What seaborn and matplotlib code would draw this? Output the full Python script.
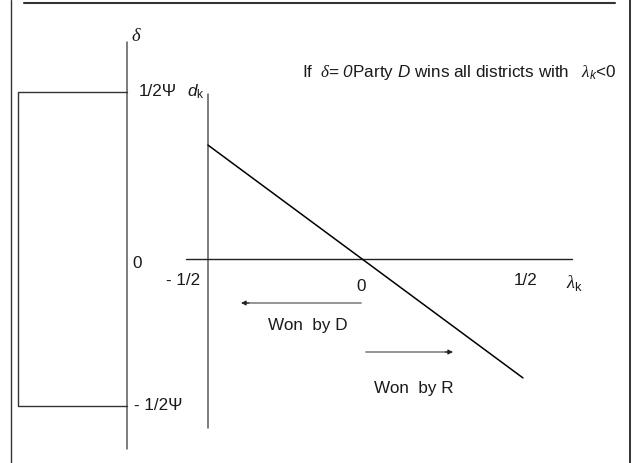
import matplotlib
matplotlib.use("Agg")
import matplotlib.pyplot as plt
import seaborn as sns
import pandas as pd
from matplotlib.lines import Line2D

# ---- data (in model units: lambda_k horizontally, delta / d_k vertically) ----
lam_ticks = [-0.5, 0.0, 0.5]
lam_tick_labels = ["- 1/2", "0", "1/2"]
psi_levels = [0.5, -0.44]
psi_labels = ["1/2\u03a8", "- 1/2\u03a8"]
line_lam = [-0.5, 0.516]
line_d = [0.341, -0.356]

sns.set_theme(style="white")
plt.rcParams["font.family"] = ["Liberation Sans", "DejaVu Sans"]
plt.rcParams["mathtext.fontset"] = "custom"
plt.rcParams["mathtext.rm"] = "Liberation Sans"
plt.rcParams["mathtext.it"] = "Liberation Sans:italic"
plt.rcParams["mathtext.sf"] = "Liberation Sans:italic"
plt.rcParams["mathtext.cal"] = "Liberation Serif:italic"

W, H, DPI = 632, 463, 100
fig = plt.figure(figsize=(W / DPI, H / DPI), dpi=DPI)
ax = fig.add_axes([0, 0, 1, 1])

# pixel -> model unit helpers (layout only)
X0, Y0, SX, SY = 363, 259, 310, 334
def X(px):
    return (px - X0) / SX
def Y(py):
    return (Y0 - py) / SY

ax.set_xlim(X(0), X(W))
ax.set_ylim(Y(H), Y(0))
ax.axis("off")

FS = 12.3
AX_C = "#5a5a5a"

# delta axis
ax.plot([X(127), X(127)], [Y(42), Y(449)], color=AX_C, lw=1.1)
# d_k axis (at lambda = -1/2)
ax.plot([lam_ticks[0], lam_ticks[0]], [Y(94), Y(428)], color=AX_C, lw=1.1)
# lambda axis (at d = 0)
ax.plot([X(186), X(572)], [0, 0], color="#222222", lw=1.0)

# bracket at +/- 1/2 Psi
ax.plot([X(127), X(18), X(18), X(127)],
        [psi_levels[0], psi_levels[0], psi_levels[1], psi_levels[1]],
        color="#333333", lw=1.0)

# d_k line
df = pd.DataFrame({"lam": line_lam, "d": line_d})
sns.lineplot(data=df, x="lam", y="d", ax=ax, color="black", lw=1.1)

# arrows (grey shaft, dark head)
shaft_c = "#8c8c8c"
for (xa, xb, yy) in [(361, 247, 303), (366, 447, 352)]:
    ax.plot([X(xa), X(xb)], [Y(yy), Y(yy)], color=shaft_c, lw=1.3)
head_kw = dict(arrowstyle="-|>", color="#222222", lw=0.8, mutation_scale=7,
               shrinkA=0, shrinkB=0)
ax.annotate("", xy=(X(241), Y(303)), xytext=(X(249), Y(303)), arrowprops=head_kw)
ax.annotate("", xy=(X(453), Y(352)), xytext=(X(445), Y(352)), arrowprops=head_kw)

# labels
tc = "#1a1a1a"
ax.text(X(136), Y(41), r"$\mathcal{\delta}$", fontsize=FS + 1, ha="center", va="baseline", color=tc)
ax.text(X(139), Y(96), psi_labels[0], fontsize=FS, ha="left", va="baseline", color=tc)
ax.text(X(187), Y(96), r"$d_{\mathrm{k}}$", fontsize=FS, ha="left", va="baseline", color=tc)
ax.text(X(134), Y(410), psi_labels[1], fontsize=FS, ha="left", va="baseline", color=tc)
ax.text(X(137), Y(268), "0", fontsize=FS, ha="center", va="baseline", color=tc)

ax.text(X(200), Y(285), lam_tick_labels[0], fontsize=FS, ha="right", va="baseline", color=tc)
ax.text(lam_ticks[1] - 2 / SX, Y(291), lam_tick_labels[1], fontsize=FS, ha="center", va="baseline", color=tc)
ax.text(X(526), Y(285), lam_tick_labels[2], fontsize=FS, ha="center", va="baseline", color=tc)
ax.text(X(566), Y(288), r"$\mathcal{\lambda}_{\mathrm{k}}$", fontsize=FS + 1, ha="left", va="baseline", color=tc)

ax.text(X(268), Y(330), "Won  by D", fontsize=FS, ha="left", va="baseline", color=tc)
ax.text(X(374), Y(393), "Won  by R", fontsize=FS, ha="left", va="baseline", color=tc)

ax.text(X(302), Y(77),
        r"If $\;\mathcal{\delta}$= $\mathsf{0}$Party $\mathit{D}$ wins all districts with  $\;\mathcal{\lambda}_{\mathsf{k}}$<0",
        fontsize=FS, ha="left", va="baseline", color=tc)

# frame decoration
fig.add_artist(Line2D([11 / W, 11 / W], [0, 1], color="#333333", lw=1.0))
fig.add_artist(Line2D([630 / W, 630 / W], [0, 1], color="#333333", lw=1.4))
fig.add_artist(Line2D([24 / W, 615 / W], [1 - 3 / H, 1 - 3 / H], color="#333333", lw=1.5))

fig.savefig("out.png", dpi=DPI, facecolor="white")
